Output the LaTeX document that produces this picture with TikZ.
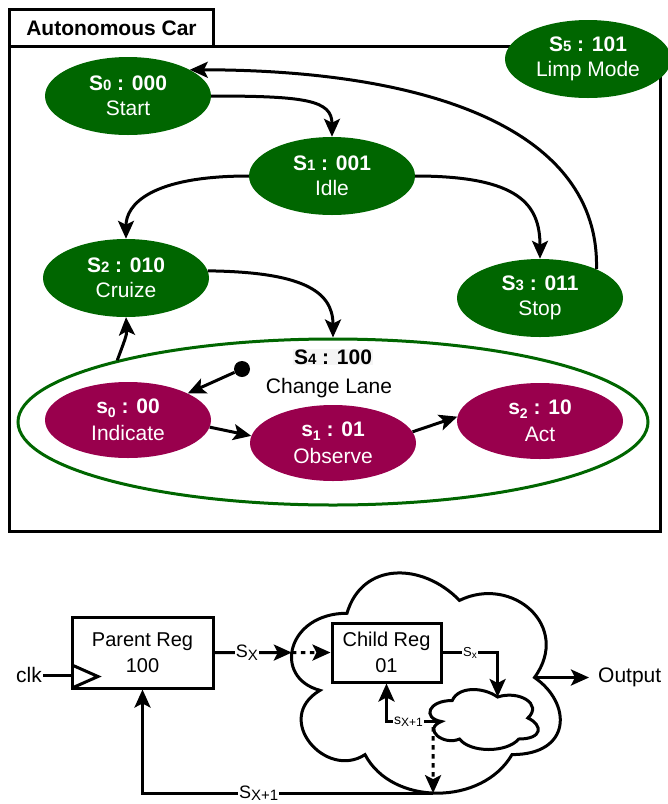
\documentclass[tikz,border=0pt]{standalone}
\usepackage{fontspec}
\setmainfont{Liberation Sans}
\usetikzlibrary{arrows.meta,shapes.geometric}
\definecolor{sgreen}{RGB}{0,102,0}
\definecolor{spurple}{RGB}{153,0,77}
\definecolor{lblgray}{RGB}{245,245,245}
\newcommand\Sd[1]{S{\fontsize{15}{15}\selectfont #1}}
\newcommand\psub[1]{\raisebox{-0.35ex}{\fontsize{14}{14}\selectfont #1}}
\newcommand\lsub[3]{#1\raisebox{-0.3ex}{\fontsize{#3}{#3}\selectfont #2}}
\begin{document}
\begin{tikzpicture}[x=1pt,y=-1pt,
  gst/.style={ellipse, fill=sgreen, text=white, minimum width=166pt, minimum height=78pt, inner sep=0pt, align=center, font=\fontsize{21}{25}\selectfont},
  pst/.style={gst, fill=spurple, minimum height=76pt, font=\fontsize{21}{27}\selectfont},
  arr/.style={line width=3pt, -{Stealth[length=18pt,width=16pt,inset=4pt]}},
  dotarr/.style={line width=3pt, dash pattern=on 4.5pt off 4.5pt, -{Stealth[length=18pt,width=16pt,inset=4pt]}},
  plain/.style={line width=3pt},
  reg/.style={draw, line width=3pt, align=center, inner sep=0pt, font=\fontsize{20}{26}\selectfont},
  biglbl/.style={fill=white, inner sep=1pt, font=\fontsize{18}{18}\selectfont},
  smalllbl/.style={fill=white, inner sep=1pt, font=\fontsize{14}{14}\selectfont},
  box/.style={draw, line width=3pt, inner sep=0pt, anchor=north west}
]
\useasboundingbox (0,0) rectangle (668,804);
% frame and tab
\node[box, minimum width=651pt, minimum height=485pt] (frame) at (8,45) {};
\node[box, minimum width=204pt, minimum height=37pt, font=\fontsize{21}{21}\selectfont\bfseries] (tab) at (8,8) {Autonomous Car};

% big composite state
\node[ellipse, draw=sgreen, line width=3pt, minimum width=630pt, minimum height=166pt, inner sep=0pt] (S4) at (333,422) {};
\node[fill=lblgray, inner sep=1pt, font=\fontsize{21}{21}\selectfont\bfseries] (S4lbl) at (333,357) {\Sd{4} : 100};
\node[inner sep=1pt, font=\fontsize{21}{21}\selectfont] (S4name) at (329,388) {Change Lane};

% states
\node[gst] (S0) at (128,96) {\textbf{\Sd{0} : 000}\\Start};
\node[gst] (S1) at (332,176) {\textbf{\Sd{1} : 001}\\Idle};
\node[gst] (S2) at (126,278) {\textbf{\Sd{2} : 010}\\Cruize};
\node[gst] (S3) at (540,298) {\textbf{\Sd{3} : 011}\\Stop};
\node[gst] (S5) at (588,59) {\textbf{\Sd{5} : 101}\\Limp Mode};

\node[pst] (s0) at (128,420) {\textbf{s\psub{0} : 00}\\Indicate};
\node[pst] (s1) at (333,443) {\textbf{s\psub{1} : 01}\\Observe};
\node[pst] (s2) at (540,421) {\textbf{s\psub{2} : 10}\\Act};
\node[circle, fill=black, minimum size=16pt, inner sep=0pt] (dot) at (242,369) {};

% transitions
\draw[arr] (S0.east) .. controls (305,96) and (332,100) .. (S1.north);
\draw[arr] (S1.west) .. controls (150,176) and (126,205) .. (S2.north);
\draw[arr] (S1.east) .. controls (520,176) and (540,205) .. (S3.north);
\draw[arr] (S3.27) .. controls (600,130) and (430,70) .. (S0.23);
\draw[arr] (S2.5) .. controls (300,272) and (333,290) .. (S4.north);
\draw[arr] (S4.164) .. controls (124,342) and (127,335) .. (S2.south);
\draw[arr] (dot) -- (s0.24);
\draw[arr] (s0.-5) -- (s1.175);
\draw[arr] (s1.8) -- (s2.177);

% ---------- lower diagram ----------
% big cloud
\begin{scope}[shift={(272,549)}, x=300pt, y=-257pt]
\draw[line width=3pt, fill=white] (0.25,0.25) .. controls (0.05,0.25) and (0,0.5) .. (0.16,0.55)
  .. controls (0,0.66) and (0.18,0.9) .. (0.31,0.8)
  .. controls (0.4,1) and (0.7,1) .. (0.8,0.8)
  .. controls (1,0.8) and (1,0.6) .. (0.875,0.5)
  .. controls (1,0.3) and (0.8,0.1) .. (0.625,0.2)
  .. controls (0.5,0.05) and (0.3,0.05) .. (0.25,0.25) -- cycle;
\coordinate (cin) at (0.066,0.403);
\coordinate (cR) at (0.875,0.5);
\coordinate (cB) at (0.537,0.95);
\end{scope}
% small cloud
\begin{scope}[shift={(422,683)}, x=121pt, y=-70pt]
\draw[line width=3pt, fill=white] (0.25,0.25) .. controls (0.05,0.25) and (0,0.5) .. (0.16,0.55)
  .. controls (0,0.66) and (0.18,0.9) .. (0.31,0.8)
  .. controls (0.4,1) and (0.7,1) .. (0.8,0.8)
  .. controls (1,0.8) and (1,0.6) .. (0.875,0.5)
  .. controls (1,0.3) and (0.8,0.1) .. (0.625,0.2)
  .. controls (0.5,0.05) and (0.3,0.05) .. (0.25,0.25) -- cycle;
\coordinate (sct) at (0.625,0.2);
\coordinate (scl) at (0.16,0.55);
\end{scope}

\node[reg, minimum width=141pt, minimum height=71pt] (parent) at (142.5,652.5) {Parent Reg\\100};
\draw[line width=3pt, line join=miter] (72,665) -- (98,676.5) -- (72,688);
\node[inner sep=1pt, font=\fontsize{21}{21}\selectfont] (clk) at (29,675) {clk};
\node[reg, minimum width=109pt, minimum height=59pt, fill=white] (child) at (386.5,652.5) {Child Reg\\01};
\node[anchor=west, inner sep=0pt, inner xsep=9pt, font=\fontsize{21}{21}\selectfont] (out) at (589,677.5) {Output};
\coordinate (dtop) at (433,727);

\draw[plain] (clk.east) -- (clk.east -| parent.west);
\draw[arr] (parent.east) -- node[biglbl, pos=0.42] {\lsub{S}{X}{15}} (cin);
\draw[dotarr] (cin) -- (child.west);
\draw[arr] (child.east) -| node[smalllbl, pos=0.25] {\lsub{\fontsize{13}{13}\selectfont S}{x}{10}} (sct);
\draw[arr] (scl) -| node[smalllbl, pos=0.3] {\lsub{s}{X+1}{12}} (child.south);
\draw[dotarr] (dtop) -- (cB);
\draw[arr] (cB) -| node[biglbl, pos=0.3] {\lsub{S}{X+1}{15}} (parent.south);
\draw[arr] (cR) -- (out.west);
\end{tikzpicture}
\end{document}
